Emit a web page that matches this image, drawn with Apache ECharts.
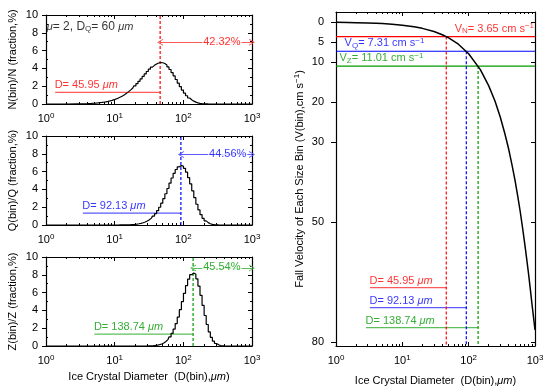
<!DOCTYPE html>
<html><head><meta charset="utf-8">
<script src="https://cdn.jsdelivr.net/npm/echarts@6/dist/echarts.min.js"></script>
<style>html,body{margin:0;padding:0;background:#fff}#c{width:550px;height:391px}</style>
</head><body><div id="c"></div>
<script>
const FONT = 'Liberation Sans, Arial, sans-serif';

// ---- data ----
const binD = [
  4.000, 4.287, 4.595, 4.925, 5.278, 5.657, 6.063, 6.498, 6.964, 7.464,
  8.000, 8.574, 9.190, 9.849, 10.556, 11.314, 12.126, 12.996, 13.929, 14.929,
  16.000, 17.148, 18.379, 19.698, 21.112, 22.627, 24.251, 25.992, 27.858, 29.857,
  32.000, 34.297, 36.758, 39.397, 42.224, 45.255, 48.503, 51.984, 55.715, 59.714,
  64.000, 68.594, 73.517, 78.793, 84.449, 90.510, 97.006, 103.97, 111.43, 119.43,
  128.00, 137.19, 147.03, 157.59, 168.90, 181.02, 194.01, 207.94, 222.86, 238.86,
  256.00, 274.37, 294.07, 315.17, 337.80, 362.04, 388.02, 415.87
];
const nFrac = [
  0.047,0.057,0.069,0.083,0.100,0.121,0.144,0.173,0.206,0.246,
  0.292,0.347,0.410,0.484,0.569,0.666,0.778,0.905,1.048,1.209,
  1.388,1.585,1.801,2.034,2.283,2.548,2.821,3.100,3.379,3.651,
  3.908,4.141,4.342,4.501,4.608,4.655,4.637,4.548,4.389,4.163,
  3.875,3.535,3.156,2.754,2.345,1.943,1.565,1.224,0.926,0.676,
  0.476,0.322,0.208,0.129,0.076,0.042,0.022,0.011,0.005,0.002,
  0.001,0,0,0,0,0,0,0
];
const qFrac = [
  0,0,0,0,0,0,0,0,0,0,
  0,0,0,0,0,0,0.006,0.009,0.013,0.019,
  0.026,0.037,0.052,0.072,0.100,0.137,0.186,0.252,0.338,0.450,
  0.593,0.773,0.998,1.274,1.606,1.997,2.449,2.957,3.514,4.102,
  4.703,5.282,5.806,6.236,6.537,6.669,6.613,6.369,5.931,5.333,
  4.622,3.844,3.066,2.333,1.692,1.162,0.755,0.461,0.264,0.141,
  0.070,0.032,0.013,0.005,0.002,0,0,0
];
const zFrac = [
  0,0,0,0,0,0,0,0,0,0,
  0,0,0,0,0,0,0,0,0,0,
  0,0,0,0,0,0,0,0,0,0,
  0.016,0.026,0.041,0.064,0.100,0.153,0.231,0.343,0.502,0.722,
  1.019,1.409,1.907,2.521,3.254,4.086,4.989,5.917,6.784,7.510,
  8.012,8.204,8.055,7.546,6.737,5.699,4.558,3.427,2.414,1.587,
  0.967,0.544,0.281,0.132,0.056,0.022,0.007,0.002
];
const meanD = [45.95, 92.13, 138.74];
const pctAbove = [42.32, 44.56, 45.54];
const fallV = [3.65, 7.31, 11.01];
const momentNames = ['N', 'Q', 'Z'];
const muValue = 2;
const dqValue = 60;
const velD = [1, 1.5, 2, 3, 4, 5, 7, 10, 15, 20, 30, 40, 50, 70, 100, 150, 200, 250, 300, 350, 400, 450, 500, 550, 600, 650, 700, 750, 800, 850, 900, 950, 1000];
const velV = [0.08, 0.12, 0.16, 0.24, 0.32, 0.40, 0.56, 0.79, 1.19, 1.59, 2.38, 3.18, 3.97, 5.56, 7.94, 11.9, 15.9, 19.8, 23.8, 27.8, 31.7, 35.7, 39.6, 43.6, 47.5, 51.5, 55.4, 59.3, 63.0, 66.8, 70.5, 73.8, 77.0];
const xMajor = [1, 10, 100, 1000];
const xMinor = [2,3,4,5,6,7,8,9,20,30,40,50,60,70,80,90,200,300,400,500,600,700,800,900];
const fracMajor = [0, 2, 4, 6, 8, 10];
const fracMinor = [1, 3, 5, 7, 9];
const velTicks = [0, 5, 10, 20, 30, 50, 80];
const fracNames = ['N(bin)/N (fraction,%)', 'Q(bin)/Q (fraction,%)', 'Z(bin)/Z (fraction,%)'];

// ---- styles ----
const TXT = ['#ff0000', '#0000ff', '#009a00'];
const LIGHT = ['#ff5a5a', '#5a5aff', '#5cbf5c'];
const AX = {color: '#000', width: 1.2};

const grids = [
  {left: 46, top: 15, width: 206, height: 89},
  {left: 46, top: 136, width: 206, height: 89},
  {left: 46, top: 257, width: 206, height: 89},
  {left: 336, top: 12, width: 199, height: 334}
];

function rich(color, size) {
  size = size || 11;
  return {
    i: {fontStyle: 'italic', fontFamily: FONT, fontSize: size, color: color},
    sub: {fontSize: 8, fontFamily: FONT, color: color, verticalAlign: 'bottom', padding: [0, 0, 0, 0]},
    sup: {fontSize: 8, fontFamily: FONT, color: color, verticalAlign: 'top', padding: [0, 0, 5, 0]}
  };
}

function logAxis(g, pos, ticks, len, labels, extra) {
  return Object.assign({
    gridIndex: g, type: 'log', logBase: 10, min: 1, max: 1000, position: pos,
    axisLine: {show: true, onZero: false, lineStyle: AX},
    axisTick: {show: true, inside: true, length: len, customValues: ticks, lineStyle: {color: '#000', width: 1}},
    axisLabel: labels ? {show: true, customValues: xMajor, margin: 8, fontFamily: FONT, fontSize: 11, color: '#000',
      formatter: v => '10{sup|' + Math.round(Math.log10(v)) + '}', rich: rich('#000')} : {show: false},
    splitLine: {show: false}, minorTick: {show: false}, minorSplitLine: {show: false}
  }, extra || {});
}

const xAxis = [], yAxis = [];
for (let g = 0; g < 4; g++) {
  const nameOpt = (g >= 2) ? {
    name: 'Ice Crystal Diameter  (D(bin),{i|μm})', nameLocation: 'middle', nameGap: g === 2 ? 25 : 29,
    nameTextStyle: {fontFamily: FONT, fontSize: 11, color: '#000', rich: rich('#000')}
  } : {};
  xAxis.push(logAxis(g, 'bottom', xMajor, 4, true, nameOpt));
  xAxis.push(logAxis(g, 'bottom', xMinor, 2, false, {axisLine: {show: false, onZero: false}}));
  xAxis.push(logAxis(g, 'top', xMajor, 4, false));
  xAxis.push(logAxis(g, 'top', xMinor, 2, false, {axisLine: {show: false, onZero: false}}));
}
for (let g = 0; g < 3; g++) {
  const base = {gridIndex: g, type: 'value', min: 0, max: 10, interval: 2, splitLine: {show: false}};
  yAxis.push(Object.assign({}, base, {
    position: 'left', axisLine: {show: true, onZero: false, lineStyle: AX},
    axisTick: {show: true, inside: false, length: 4, lineStyle: {color: '#000'}},
    axisLabel: {show: true, margin: 8, fontFamily: FONT, fontSize: 11, color: '#000'},
    name: fracNames[g], nameLocation: 'middle', nameGap: 28,
    nameTextStyle: {fontFamily: FONT, fontSize: 11, color: '#000'}
  }));
  yAxis.push(Object.assign({}, base, {
    position: 'left', axisLine: {show: false, onZero: false},
    axisTick: {show: true, inside: true, length: 2, customValues: fracMinor, lineStyle: {color: '#000'}},
    axisLabel: {show: false}
  }));
  yAxis.push(Object.assign({}, base, {
    position: 'right', axisLine: {show: true, onZero: false, lineStyle: AX},
    axisTick: {show: true, inside: true, length: 4, lineStyle: {color: '#000'}},
    axisLabel: {show: false}
  }));
  yAxis.push(Object.assign({}, base, {
    position: 'right', axisLine: {show: false, onZero: false},
    axisTick: {show: true, inside: true, length: 2, customValues: fracMinor, lineStyle: {color: '#000'}},
    axisLabel: {show: false}
  }));
}
const vBase = {gridIndex: 3, type: 'value', min: -2.5, max: 81, inverse: true, splitLine: {show: false}};
yAxis.push(Object.assign({}, vBase, {
  position: 'left', axisLine: {show: true, onZero: false, lineStyle: AX},
  axisTick: {show: true, inside: false, length: 5, customValues: velTicks, lineStyle: {color: '#000'}},
  axisLabel: {show: true, customValues: velTicks, margin: 12, fontFamily: FONT, fontSize: 11, color: '#000'},
  name: 'Fall Velocity of Each Size Bin (V(bin),cm s{sup|−1})', nameLocation: 'middle', nameGap: 30,
  nameTextStyle: {fontFamily: FONT, fontSize: 11, color: '#000', rich: rich('#000')}
}));
yAxis.push(Object.assign({}, vBase, {
  position: 'right', axisLine: {show: true, onZero: false, lineStyle: AX},
  axisTick: {show: true, inside: true, length: 4, customValues: velTicks, lineStyle: {color: '#000'}},
  axisLabel: {show: false}
}));

function lineSeries(xi, yi, data, color, width, type, z) {
  return {type: 'line', xAxisIndex: xi, yAxisIndex: yi, data: data, showSymbol: false, symbol: 'none',
    silent: true, animation: false, z: z || 2,
    lineStyle: {color: color, width: width, type: type || 'solid'}};
}
function textSeries(xi, yi, x, y, text, color, align, vAlign, extra) {
  return {type: 'scatter', xAxisIndex: xi, yAxisIndex: yi, data: [[x, y]], symbolSize: 1, silent: true, z: 10,
    itemStyle: {color: 'transparent'},
    label: Object.assign({show: true, position: [0, 0], align: align, verticalAlign: vAlign,
      formatter: text, fontFamily: FONT, fontSize: 11, color: color, rich: rich(color)}, extra || {})};
}
const CHEVRON = 'path://M0,10 L5,0 L10,10 L8.6,10 L5,2.8 L1.4,10 Z';

const series = [];
const fracs = [nFrac, qFrac, zFrac];
const dLineY = [1.3, 1.34, 1.34];
const dLineStart = [1.36, 3.44, 5.07];
const arrowY = [6.94, 7.92, 8.77];
const pctX = [370, 450, 370];
for (let g = 0; g < 3; g++) {
  const xi = 4 * g, yi = 4 * g;
  const hist = [[1, 0]].concat(binD.map((d, i) => [d, fracs[g][i]])).concat([[1000, 0]]);
  const s = lineSeries(xi, yi, hist, '#000', 1.2, 'solid', 5);
  s.step = 'middle';
  series.push(s);
  series.push(lineSeries(xi, yi, [[meanD[g], 0], [meanD[g], 10]], TXT[g], 1.2, [3, 2], 4));
  series.push(lineSeries(xi, yi, [[dLineStart[g], dLineY[g]], [meanD[g], dLineY[g]]], LIGHT[g], 1.2, 'solid', 3));
  series.push(textSeries(xi, yi, dLineStart[g], dLineY[g], 'D= ' + meanD[g].toFixed(2) + ' {i|μm}', TXT[g], 'left', 'bottom', {position: [0, -1]}));
  const arr = lineSeries(xi, yi, [], LIGHT[g], 1, 'solid', 3);
  arr.markLine = {silent: true, symbol: [CHEVRON, CHEVRON], symbolSize: [7, 6], animation: false,
    lineStyle: {color: LIGHT[g], width: 1, type: 'solid'}, label: {show: false},
    data: [[{coord: [meanD[g], arrowY[g]]}, {coord: [1000, arrowY[g]]}]]};
  series.push(arr);
  series.push(textSeries(xi, yi, pctX[g], arrowY[g], pctAbove[g].toFixed(2) + '%', TXT[g], 'center', 'middle',
    {backgroundColor: '#fff', padding: [0, 1], fontSize: 11}));
}
series.push(textSeries(0, 0, 1.04, 8.6, '{i|μ}= ' + muValue + ', D{sub|Q}= ' + dqValue + ' {i|μm}', '#000', 'left', 'middle', {fontSize: 12}));

// right panel
const xv = 12, yv = 12;
series.push(lineSeries(xv, yv, velD.map((d, i) => [d, velV[i]]), '#000', 1.5, 'solid', 6));
const vLabelX = [985, 1.37, 1.15];
const vAlign = ['right', 'left', 'left'];
const bottomY = [66.4, 71.4, 76.4];
const bottomStart = [3.25, 3.25, 2.83];
for (let i = 0; i < 3; i++) {
  series.push(lineSeries(xv, yv, [[1, fallV[i]], [1000, fallV[i]]], TXT[i], 1.2, 'solid', 3));
  series.push(lineSeries(xv, yv, [[meanD[i], fallV[i]], [meanD[i], 81]], TXT[i], 1.2, [3, 2], 4));
  series.push(lineSeries(xv, yv, [[bottomStart[i], bottomY[i]], [meanD[i], bottomY[i]]], LIGHT[i], 1.2, 'solid', 3));
  series.push(textSeries(xv, yv, bottomStart[i], bottomY[i], 'D= ' + meanD[i].toFixed(2) + ' {i|μm}', TXT[i], 'left', 'bottom', {position: [0, -1]}));
  series.push(textSeries(xv, yv, vLabelX[i], fallV[i], 'V{sub|' + momentNames[i] + '}= ' + fallV[i].toFixed(2) + ' cm s{sup|−1}', TXT[i], vAlign[i], 'bottom', {position: [0, -1]}));
}

const chart = echarts.init(document.getElementById('c'), null, {renderer: 'canvas'});
chart.setOption({
  animation: false,
  backgroundColor: '#fff',
  grid: grids.map(g => Object.assign({show: false, containLabel: false}, g)),
  xAxis: xAxis,
  yAxis: yAxis,
  series: series
});
</script></body></html>
